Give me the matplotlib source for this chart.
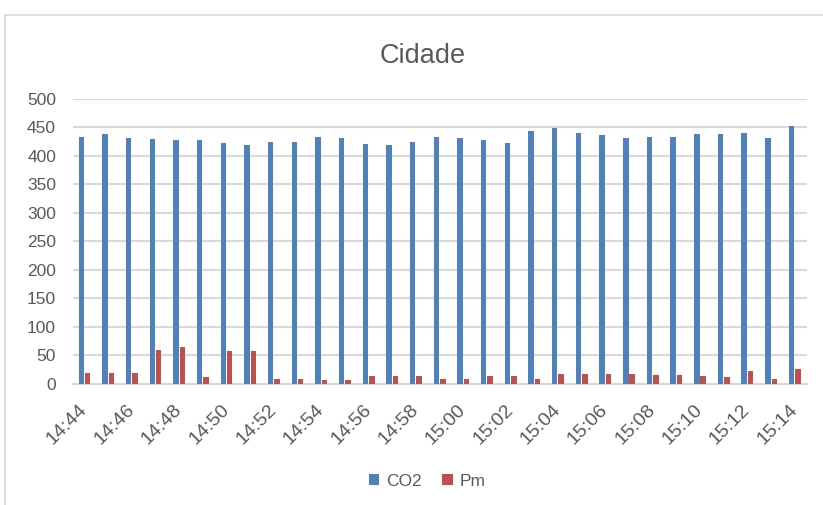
import numpy as np
import matplotlib
matplotlib.use('Agg')
import matplotlib.pyplot as plt
from matplotlib.patches import Rectangle

plt.rcParams['font.family'] = ['Liberation Sans', 'DejaVu Sans']

horas = ['14:44', '14:45', '14:46', '14:47', '14:48', '14:49', '14:50', '14:51',
         '14:52', '14:53', '14:54', '14:55', '14:56', '14:57', '14:58', '14:59',
         '15:00', '15:01', '15:02', '15:03', '15:04', '15:05', '15:06', '15:07',
         '15:08', '15:09', '15:10', '15:11', '15:12', '15:13', '15:14']
co2 = [434, 438, 432, 430, 428, 428, 423, 420, 424, 424, 434, 432, 421, 419, 424, 434,
       432, 428, 423, 443, 449, 440, 436, 432, 434, 434, 438, 438, 440, 432, 453]
pm = [19, 19, 19, 59, 65, 11, 57, 57, 9, 9, 6, 6, 13, 13, 13, 8,
      8, 13, 13, 9, 17, 17, 17, 17, 16, 16, 13, 11, 23, 9, 25]

cinza = '#595959'
x = np.arange(len(horas))
w = 0.23

fig = plt.figure(figsize=(8.23, 5.05), dpi=100)
ax = fig.add_axes([0.0883, 0.2402, 0.8917, 0.5638])

# moldura do grafico
fig.patches.append(Rectangle((5 / 823, -0.01), 1.0, 1 - 15 / 505 + 0.01,
                             transform=fig.transFigure, fill=False,
                             edgecolor='#d9d9d9', linewidth=1.2))

ax.bar(x - 0.135, co2, w, color='#4f81bd', label='CO2', zorder=3)
ax.bar(x + 0.135, pm, w, color='#c0504d', label='Pm', zorder=3)

ax.set_xlim(-0.5, len(horas) - 0.5)
ax.set_ylim(0, 500)
ax.set_yticks(range(0, 501, 50))
ax.yaxis.grid(True, color='#d9d9d9', linewidth=1.5, zorder=0)
ax.set_axisbelow(True)
for s in ['top', 'right', 'left']:
    ax.spines[s].set_visible(False)
ax.spines['bottom'].set_color('#d9d9d9')
ax.spines['bottom'].set_linewidth(1.5)
ax.tick_params(axis='both', length=0, colors=cinza, labelsize=12.5)
ax.tick_params(axis='y', pad=12)

ax.set_xticks(x[::2])
ax.set_xticklabels(horas[::2], rotation=45, ha='right', va='center',
                   rotation_mode='anchor', fontsize=14)
ax.tick_params(axis='x', pad=17)

fig.text(0.513, 0.89, 'Cidade', ha='center', va='center', fontsize=19.5, color=cinza)

ax.legend(loc='center', bbox_to_anchor=(0.483, -0.342), ncol=2, frameon=False,
          fontsize=12.5, labelcolor=cinza, handlelength=0.6, handleheight=0.6,
          handletextpad=0.4, columnspacing=1.2)

fig.savefig('out.png', dpi=100)
